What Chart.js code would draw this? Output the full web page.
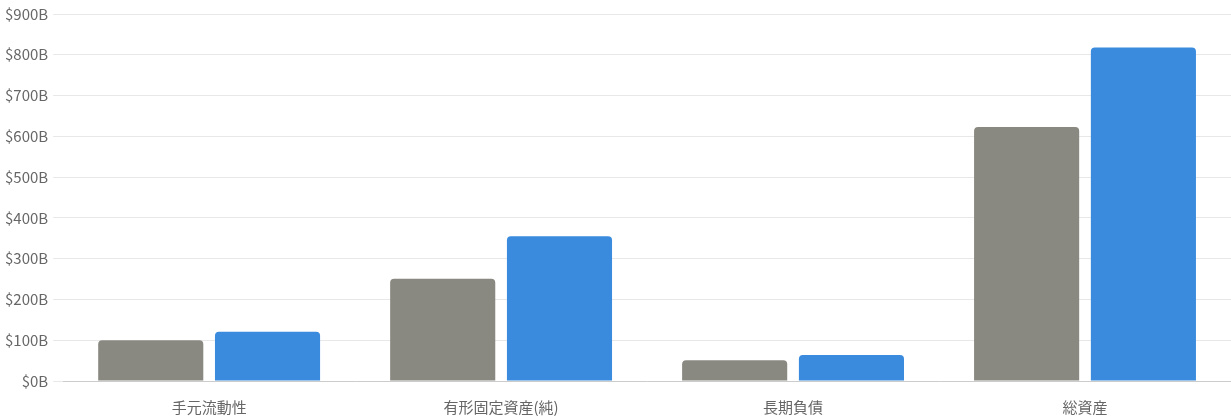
<!DOCTYPE html>
<html>
<head>
<meta charset="utf-8">
<script src="https://cdn.jsdelivr.net/npm/chart.js@4.4.1/dist/chart.umd.min.js"></script>
<style>
    html, body { margin: 0; padding: 0; background: #ffffff; overflow: hidden; }
    #wrap { width: 1231px; height: 422px; }
</style>
</head>
<body>
<div id="wrap"><canvas id="balanceChart"></canvas></div>
<script>
const categories = ["手元流動性", "有形固定資産(純)", "長期負債", "総資産"];
const seriesPrior = [100, 251, 51, 623];
const seriesCurrent = [121, 355, 64, 818];
const yTicks = [0, 100, 200, 300, 400, 500, 600, 700, 800, 900];

function setupChart() {
    const canvas = document.getElementById("balanceChart");
    if (!canvas || typeof Chart === "undefined") {
        return;
    }

    Chart.defaults.font.family = "'Noto Sans CJK JP', 'Noto Sans', sans-serif";
    Chart.defaults.font.size = 15;
    Chart.defaults.color = "#666666";

    new Chart(canvas, {
        type: "bar",
        data: {
            labels: categories,
            datasets: [{
                label: "Prior",
                data: seriesPrior,
                backgroundColor: "#8a8981",
                borderRadius: 4,
                borderSkipped: "bottom"
            }, {
                label: "Current",
                data: seriesCurrent,
                backgroundColor: "#3a8bde",
                borderRadius: 4,
                borderSkipped: "bottom"
            }]
        },
        options: {
            responsive: true,
            maintainAspectRatio: false,
            animation: false,
            layout: { padding: { top: 3, bottom: -3, left: 0, right: 0 } },
            plugins: {
                legend: { display: false },
                tooltip: { enabled: false }
            },
            scales: {
                x: {
                    grid: { display: false },
                    border: { display: true, color: "#cccccc" },
                    ticks: { padding: 9 }
                },
                y: {
                    min: yTicks[0],
                    max: yTicks[yTicks.length - 1],
                    afterBuildTicks: (axis) => {
                        axis.ticks = yTicks.map((v) => ({ value: v }));
                    },
                    grid: { color: "#e8e8e8", tickLength: 10 },
                    border: { display: false },
                    ticks: {
                        padding: 5,
                        callback: (v) => `$${v}B`
                    }
                }
            }
        }
    });
}

document.addEventListener("DOMContentLoaded", setupChart);
</script>
</body>
</html>
